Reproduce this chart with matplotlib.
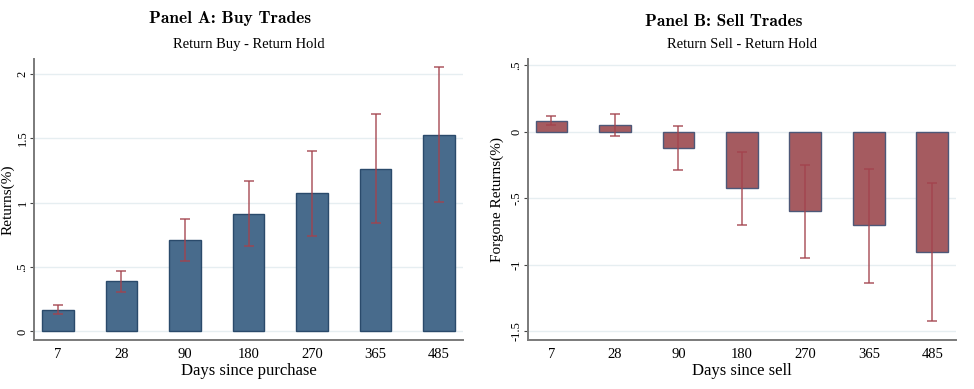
import numpy as np
import matplotlib.pyplot as plt

days = ["7", "28", "90", "180", "270", "365", "485"]

buy_mean = [0.168, 0.388, 0.708, 0.915, 1.073, 1.261, 1.530]
buy_lo = [0.135, 0.307, 0.550, 0.667, 0.740, 0.845, 1.008]
buy_hi = [0.205, 0.468, 0.871, 1.165, 1.403, 1.688, 2.054]

sell_mean = [0.081, 0.051, -0.122, -0.423, -0.596, -0.702, -0.903]
sell_lo = [0.048, -0.029, -0.290, -0.700, -0.948, -1.134, -1.425]
sell_hi = [0.121, 0.134, 0.044, -0.155, -0.248, -0.280, -0.383]

buy_ticks = [0, 0.5, 1, 1.5, 2]
buy_ticklabels = ["0", ".5", "1", "1.5", "2"]
sell_ticks = [-1.5, -1, -0.5, 0, 0.5]
sell_ticklabels = ["-1.5", "-1", "-.5", "0", ".5"]

plt.rcParams["font.family"] = ["Liberation Serif", "DejaVu Serif"]

fig = plt.figure(figsize=(9.74, 3.89), dpi=100)
ax_a = fig.add_axes([34 / 974, 49 / 389, 429 / 974, 281 / 389])
ax_b = fig.add_axes([527.7 / 974, 49 / 389, 428.3 / 974, 281 / 389])

grid_c = "#e6eef1"
err_c = "#a3434d"


def panel(ax, mean, lo, hi, fill, edge, ylim, ticks, ticklabels, subtitle,
          xlabel, ylabel, label_x):
    x = np.arange(len(days))
    mean = np.array(mean)
    yerr = np.vstack([mean - np.array(lo), np.array(hi) - mean])
    ax.bar(x, mean, width=0.5, color=fill, edgecolor=edge, linewidth=1.0, zorder=2)
    ax.errorbar(x, mean, yerr=yerr, fmt="none", ecolor=err_c, elinewidth=1.3,
                capsize=3.5, capthick=1.3, alpha=0.75, zorder=3)
    ax.set_xlim(-0.375, 6.375)
    ax.set_ylim(*ylim)
    ax.set_xticks(x)
    ax.set_xticklabels(days, fontsize=10.5)
    ax.set_yticks(ticks)
    ax.set_yticklabels(ticklabels, fontsize=9, rotation=90, va="center")
    ax.tick_params(axis="x", length=0, pad=6)
    ax.tick_params(axis="y", length=3, width=0.8, color="#444444", pad=1)
    ax.grid(axis="y", color=grid_c, linewidth=1.0, zorder=0)
    ax.set_axisbelow(True)
    for s in ("top", "right"):
        ax.spines[s].set_visible(False)
    for s in ("left", "bottom"):
        ax.spines[s].set_color("#7a7a7a")
        ax.spines[s].set_linewidth(1.4)
    ax.set_title(subtitle, fontsize=10.5, pad=8)
    ax.set_xlabel(xlabel, fontsize=12, labelpad=1)
    ax.set_ylabel(ylabel, fontsize=11, va="center")
    ax.yaxis.set_label_coords(label_x, 0.5)


panel(ax_a, buy_mean, buy_lo, buy_hi, "#486b8c", "#2a4a6b", (-0.067, 2.117),
      buy_ticks, buy_ticklabels, "Return Buy - Return Hold",
      "Days since purchase", "Returns(%)", -0.061)
panel(ax_b, sell_mean, sell_lo, sell_hi, "#a55b60", "#4d5878", (-1.566, 0.548),
      sell_ticks, sell_ticklabels, "Return Sell - Return Hold",
      "Days since sell", "Forgone Returns(%)", -0.072)

fig.text(230 / 974, 1 - 19 / 389, "Panel A: Buy Trades", family="cmb10",
         fontsize=12.5, ha="center", va="center")
fig.text(724 / 974, 1 - 21 / 389, "Panel B: Sell Trades", family="cmb10",
         fontsize=12.5, ha="center", va="center")

fig.savefig("out.png", dpi=100)
